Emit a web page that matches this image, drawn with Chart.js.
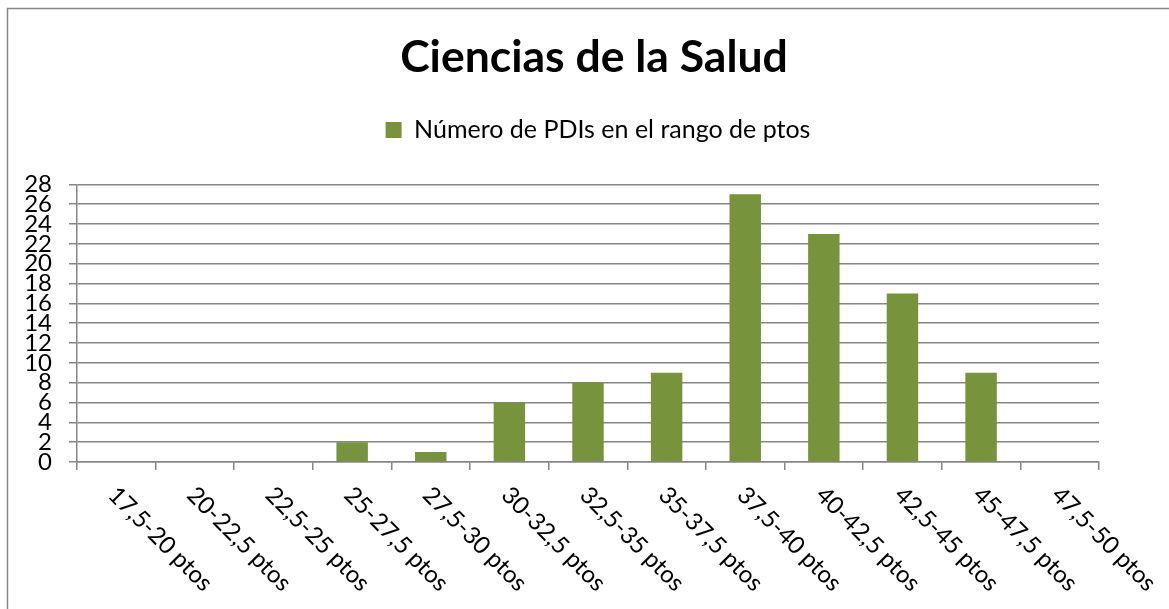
<!DOCTYPE html>
<html>
<head>
<meta charset="utf-8">
<script src="https://cdn.jsdelivr.net/npm/chart.js@4/dist/chart.umd.min.js"></script>
<style>
html,body{margin:0;padding:0;background:#fff;}
#wrap{width:1169px;height:609px;position:relative;}
</style>
</head>
<body>
<div id="wrap"><canvas id="c" width="1169" height="609"></canvas></div>
<script>
const categories = ["17,5-20 ptos","20-22,5 ptos","22,5-25 ptos","25-27,5 ptos","27,5-30 ptos","30-32,5 ptos","32,5-35 ptos","35-37,5 ptos","37,5-40 ptos","40-42,5 ptos","42,5-45 ptos","45-47,5 ptos","47,5-50 ptos"];
const values = [0,0,0,2,1,6,8,9,27,23,17,9,0];
const seriesName = "Número de PDIs en el rango de ptos";
const chartTitle = "Ciencias de la Salud";
const yMax = 28, yStep = 2;

const GRID = '#868686';
const FONT = 'Lato';

const framePlugin = {
  id: 'frame',
  beforeDraw(chart) {
    const ctx = chart.ctx;
    ctx.save();
    ctx.fillStyle = '#fff';
    ctx.fillRect(0, 0, chart.width, chart.height);
    ctx.strokeStyle = GRID;
    ctx.lineWidth = 1.5;
    ctx.strokeRect(7.5, 8.5, chart.width + 20, chart.height + 20);
    ctx.restore();
  }
};

const centerPlugin = {
  id: 'recenter',
  afterLayout(chart) {
    const t = chart.titleBlock;
    if (t) { t.left = 19; t.right = chart.width; t.width = t.right - t.left; }
    const l = chart.legend;
    if (l) { l.left = 27; l.right = chart.width; l.width = l.right - l.left; }
  }
};

const xLabelPlugin = {
  id: 'xlabels',
  afterDraw(chart) {
    const ctx = chart.ctx;
    const xs = chart.scales.x;
    ctx.save();
    ctx.fillStyle = '#000';
    ctx.font = '24px ' + FONT;
    ctx.textAlign = 'left';
    ctx.textBaseline = 'middle';
    categories.forEach((lab, i) => {
      const x = xs.getPixelForValue(i);
      ctx.save();
      ctx.translate(x - 4, 491);
      ctx.rotate(Math.PI / 4);
      ctx.fillText(lab, 0, 0);
      ctx.restore();
    });
    ctx.restore();
  }
};

new Chart(document.getElementById('c'), {
  type: 'bar',
  data: {
    labels: categories,
    datasets: [{
      label: seriesName,
      data: values,
      backgroundColor: '#77933C',
      borderWidth: 0,
      barPercentage: 0.4,
      categoryPercentage: 1.0
    }]
  },
  options: {
    responsive: false,
    animation: false,
    devicePixelRatio: 1,
    layout: { padding: { left: 0, right: 70, top: 0, bottom: 0 } },
    plugins: {
      title: {
        display: true,
        text: chartTitle,
        color: '#000',
        weight: 3000,
        font: { family: FONT, size: 44.5, weight: 'bold', lineHeight: 1.2 },
        padding: { top: 31, bottom: 21 }
      },
      legend: {
        display: true,
        position: 'top',
        weight: 2500,
        labels: {
          color: '#000',
          font: { family: FONT, size: 25 },
          boxWidth: 16,
          boxHeight: 16,
          padding: 12
        }
      },
      subtitle: {
        display: true,
        text: '',
        weight: 1000,
        font: { size: 10, lineHeight: 1 },
        padding: { top: 22, bottom: 0 }
      },
      tooltip: { enabled: false }
    },
    scales: {
      x: {
        grid: {
          display: true,
          drawOnChartArea: false,
          drawTicks: true,
          tickLength: 8,
          color: GRID,
          lineWidth: 1.5,
          offset: true
        },
        border: { display: true, color: GRID, width: 1.5 },
        ticks: { display: false },
        afterFit(scale) { scale.height = 147; }
      },
      y: {
        min: 0,
        max: yMax,
        grid: {
          display: true,
          drawTicks: true,
          tickLength: 8,
          color: GRID,
          lineWidth: 1.5
        },
        border: { display: true, color: GRID, width: 1.5 },
        ticks: {
          stepSize: yStep,
          autoSkip: false,
          color: '#000',
          padding: 17,
          font: { family: FONT, size: 24, lineHeight: 1 }
        },
        afterFit(scale) { scale.width = 77; }
      }
    }
  },
  plugins: [framePlugin, centerPlugin, xLabelPlugin]
});
</script>
</body>
</html>
